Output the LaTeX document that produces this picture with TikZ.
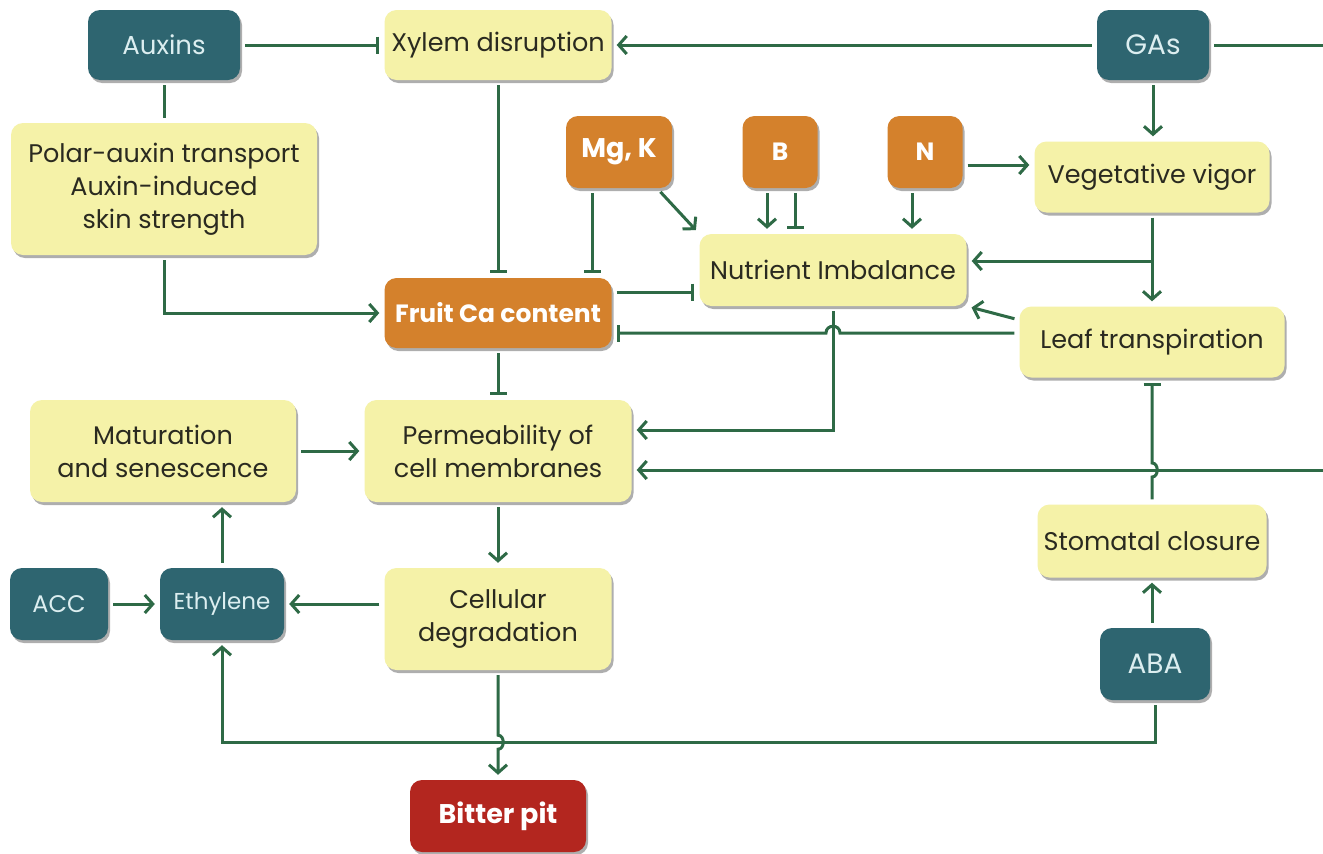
\documentclass[tikz,border=0pt]{standalone}
\usepackage{fontspec}
\setmainfont{Poppins}
\usetikzlibrary{arrows.meta,shadows,calc}
\definecolor{lgreen}{HTML}{2E6A46}
\definecolor{byellow}{HTML}{F5F2A8}
\definecolor{borange}{HTML}{D4812C}
\definecolor{bteal}{HTML}{2E6570}
\definecolor{bred}{HTML}{B3261F}
\definecolor{tdark}{HTML}{2A2A20}
\definecolor{tlight}{HTML}{DCEEF0}
\tikzset{
  basebox/.style={rounded corners=12pt, align=center, inner sep=0pt,
    drop shadow={shadow xshift=2pt,shadow yshift=-3pt,opacity=0.45,fill=black!70}},
  ybox/.style={basebox, fill=byellow, text=tdark, font=\fontsize{25.5}{33}\selectfont},
  tbox/.style={basebox, fill=bteal, text=tlight, font=\fontsize{24}{28}\selectfont},
  tboxl/.style={tbox, font=\fontsize{28}{32}\selectfont},
  obox/.style={basebox, fill=borange, text=white, font=\bfseries\fontsize{25}{30}\selectfont},
  rbox/.style={basebox, fill=bred, text=white, font=\bfseries\fontsize{27}{30}\selectfont},
  conn/.style={draw=lgreen, line width=3pt, shorten >=5pt, shorten <=5pt},
  act/.style={conn, -{Straight Barb[length=8pt,width=18pt]}},
  inh/.style={conn, -{Bar[width=17pt]}},
  plain/.style={conn},
}
\begin{document}
\begin{tikzpicture}[x=1pt,y=-1pt]
\useasboundingbox[fill=white] (0,0) rectangle (1323,854);
% nodes
\node[tbox, font=\fontsize{26}{30}\selectfont, minimum width=152, minimum height=70] (aux) at (164,45) {Auxins};
\node[ybox, minimum width=227, minimum height=70] (xyl) at (498,45) {Xylem disruption};
\node[tboxl, minimum width=112, minimum height=70] (gas) at (1153,45) {GAs};
\node[ybox, minimum width=306, minimum height=132] (pol) at (164,189) {Polar-auxin transport\\Auxin-induced\\skin strength};
\node[obox, font=\bfseries\fontsize{27}{30}\selectfont, minimum width=106, minimum height=72] (mgk) at (619,152) {Mg, K};
\node[obox, minimum width=75, minimum height=72] (b) at (780,152) {B};
\node[obox, minimum width=75, minimum height=72] (n) at (925,152) {N};
\node[ybox, minimum width=235, minimum height=71] (veg) at (1152,177) {Vegetative vigor};
\node[ybox, minimum width=267, minimum height=72] (nut) at (833,270) {Nutrient Imbalance};
\node[obox, minimum width=227, minimum height=70] (fca) at (498,313) {Fruit Ca content};
\node[ybox, minimum width=265, minimum height=71] (leaf) at (1152,342) {Leaf transpiration};
\node[ybox, minimum width=266, minimum height=102] (mat) at (163,451) {Maturation\\and senescence};
\node[ybox, minimum width=267, minimum height=102] (perm) at (498,451) {Permeability of\\cell membranes};
\node[ybox, minimum width=229, minimum height=73] (stom) at (1152,541) {Stomatal closure};
\node[tbox, minimum width=98, minimum height=72] (acc) at (59,604) {ACC};
\node[tbox, font=\fontsize{23}{28}\selectfont, minimum width=124, minimum height=72] (eth) at (222,604) {Ethylene};
\node[ybox, minimum width=227, minimum height=102] (cell) at (498,619) {Cellular\\degradation};
\node[tboxl, minimum width=110, minimum height=72] (aba) at (1155,664) {ABA};
\node[rbox, minimum width=176, minimum height=72] (bit) at (498,816) {Bitter pit};
% helper coordinates
\coordinate (mk1) at ([xshift=-27pt]mgk.south);
\coordinate (mk2) at ([xshift=38pt]mgk.south);
\coordinate (b1) at ([xshift=-13pt]b.south);
\coordinate (b2) at ([xshift=15pt]b.south);
\coordinate (n1) at ([xshift=-13pt]n.south);
\coordinate (nv) at ([yshift=-13pt]n.east);
\coordinate (fn) at ([yshift=21pt]fca.east);
\coordinate (nb) at ([yshift=9pt]nut.east);
\coordinate (vb) at (veg.south |- nb);
\coordinate (ld) at ([yshift=22pt]leaf.west);
\coordinate (lf) at ([yshift=9pt]leaf.west);
\coordinate (hp) at (lf -| nut.south);
\coordinate (pe1) at ([yshift=21pt]perm.east);
\coordinate (pe2) at ([yshift=-19pt]perm.east);
\coordinate (sh) at (stom.north |- pe2);
\coordinate (ab) at ([yshift=-42pt]aba.south);
\coordinate (ch) at (cell.south |- ab);
\coordinate (gr) at ([xshift=150pt]gas.east);
% connectors
\draw[inh] (aux.east) -- (xyl.west);
\draw[act] (gas.west) -- (xyl.east);
\draw[act] (gas.east) -- (gr) |- (pe2);
\draw[act] (gas.south) -- (gas.south |- veg.north);
\draw[plain] (aux.south) -- (pol.north);
\draw[act] (pol.south) |- (fca.west);
\draw[inh] (xyl.south) -- (fca.north);
\draw[inh] (mk1) -- (mk1 |- fca.north);
\draw[act] (mk2) -- (nut.north west);
\draw[act] (b1) -- (b1 |- nut.north);
\draw[inh] (b2) -- (b2 |- nut.north);
\draw[act] (n1) -- (n1 |- nut.north);
\draw[act] (nv) -- (nv -| veg.west);
\draw[inh] (fn) -- (fn -| nut.west);
\draw[act] (veg.south) -- (leaf.north);
\draw[act, shorten <=0pt] (vb) -- (nb);
\draw[act] (ld) -- (nut.south east);
\draw[inh] (lf) -- ([xshift=7pt]hp) .. controls ([xshift=7pt,yshift=9pt]hp) and ([xshift=-7pt,yshift=9pt]hp) .. ([xshift=-7pt]hp) -- (lf -| fca.east);
\draw[act] (nut.south) |- (pe1);
\draw[inh] (fca.south) -- (perm.north);
\draw[act] (mat.east) -- (perm.west);
\draw[inh] (stom.north) -- ([yshift=-7pt]sh) .. controls ([xshift=7pt,yshift=-7pt]sh) and ([xshift=7pt,yshift=7pt]sh) .. ([yshift=7pt]sh) -- (leaf.south);
\draw[act] (aba.north -| stom.south) -- (stom.south);
\draw[act] (aba.south) -- (ab) -| (eth.south);
\draw[act] (cell.south) -- ([yshift=7pt]ch) .. controls ([xshift=7pt,yshift=7pt]ch) and ([xshift=7pt,yshift=-7pt]ch) .. ([yshift=-7pt]ch) -- (bit.north);
\draw[act] (perm.south) -- (cell.north);
\draw[act] (cell.west |- eth.east) -- (eth.east);
\draw[act] (acc.east) -- (eth.west);
\draw[act] (eth.north) -- (eth.north |- mat.south);
\end{tikzpicture}
\end{document}
